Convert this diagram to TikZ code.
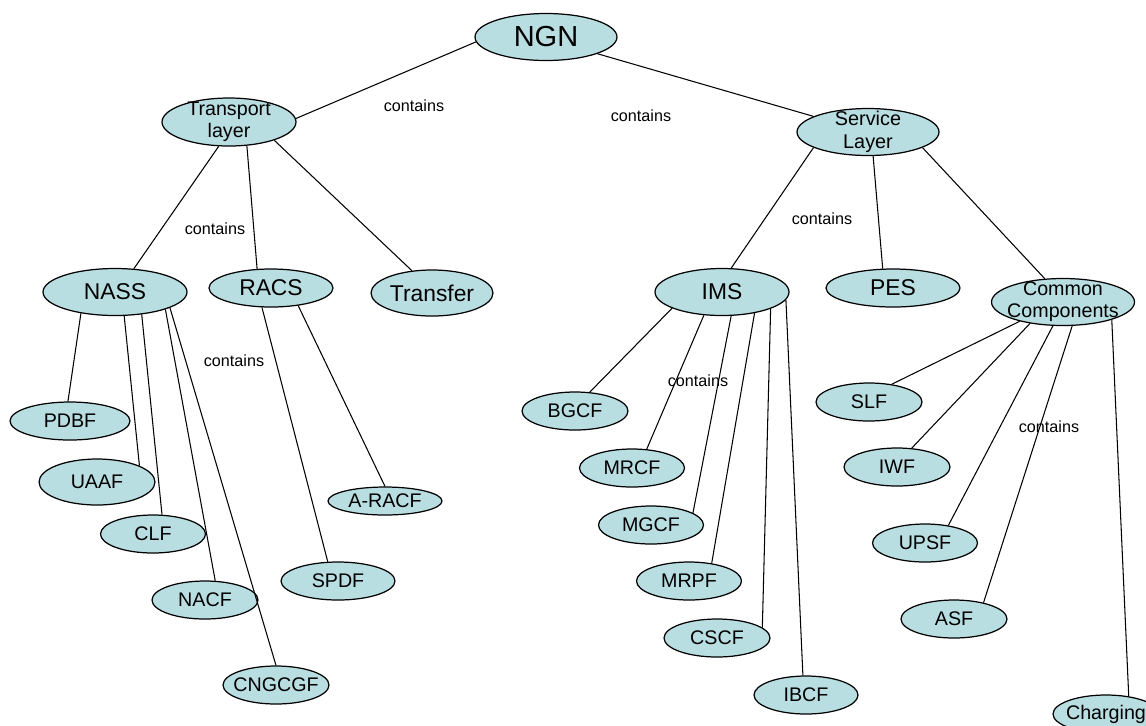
\documentclass[tikz,border=0pt]{standalone}
\usepackage{fontspec}
\setmainfont{Liberation Sans}
\usetikzlibrary{shapes.geometric}
\definecolor{blasstuerkis}{RGB}{185,222,226}

\begin{document}
\begin{tikzpicture}[x=0.02cm,y=-0.02cm,
		knoten/.style={ellipse,draw,line width=0.7pt,fill=blasstuerkis,inner sep=-20pt,align=center,
			minimum width=2.12cm,minimum height=0.76cm,font=\fontsize{11.2}{12.6}\selectfont},
		mitte/.style={knoten,font=\fontsize{13}{15}\selectfont},
		linie/.style={line width=0.6pt},
		enthaelt/.style={inner sep=0pt,font=\fontsize{9.2}{11}\selectfont}]
		\clip (0,0) rectangle (1146,725);
		% Wurzel
		\node[knoten,minimum width=2.84cm,minimum height=0.94cm,font=\fontsize{16.5}{18}\selectfont] (ngn) at (546,37) {NGN};
		% Schichten
		\node[knoten,minimum width=2.68cm,minimum height=0.96cm,font=\fontsize{11.2}{12.4}\selectfont] (transport) at (229,122) {Transport\\layer};
		\node[knoten,minimum width=2.84cm,minimum height=0.94cm,font=\fontsize{11.3}{13}\selectfont] (service) at (868,132) {Service\\Layer};
		% Teilsysteme
		\foreach \n/\x/\y/\w/\h/\l in {nass/115/292/2.88/0.94/NASS,racs/271/288/2.48/0.76/RACS,transfer/432/293/2.44/0.92/Transfer,
			ims/722/292/2.68/0.94/IMS,pes/893/288/2.68/0.76/PES}
		\node[mitte,minimum width=\w cm,minimum height=\h cm] (\n) at (\x,\y) {\l};
		\node[knoten,minimum width=2.86cm,minimum height=0.94cm] (common) at (1063,302) {Common\\Components};
		% Funktionen
		\foreach \n/\x/\y/\w/\h/\l in {pdbf/70/421/2.40/0.76/PDBF,uaaf/97/482/2.32/0.92/UAAF,clf/153/534/2.10/0.76/CLF,
			nacf/205/600/2.12/0.76/NACF,cngcgf/276/685/2.12/0.76/CNGCGF,aracf/385/501/2.28/0.56/A-RACF,
			spdf/338/581/2.28/0.76/SPDF,bgcf/575/411/2.12/0.76/BGCF,mrcf/632/468/2.10/0.76/MRCF,
			mgcf/651/525/2.10/0.76/MGCF,mrpf/689/581/2.10/0.76/MRPF,cscf/717/638/2.12/0.76/CSCF,
			ibcf/806/695/2.08/0.76/IBCF,slf/869/402/2.12/0.76/SLF,iwf/897/467/2.12/0.76/IWF,
			upsf/925/543/2.10/0.76/UPSF,asf/954/619/2.12/0.76/ASF,charging/1106/714/2.12/0.76/Charging}
		\node[knoten,minimum width=\w cm,minimum height=\h cm] (\n) at (\x,\y) {\l};
		% Verbindungen
		\foreach \a/\e in {ngn.184/transport.3,ngn.342/service.164,
			transport.247/nass.51,transport.307/racs.126,transport.338/transfer.132,
			service.196/ims.69,service.282/pes.118,service.344/common.128,
			nass.212/pdbf.96,nass.291/uaaf.21,nass.320/clf.65,nass.341/nacf.62,nass.344/cngcgf.90,
			racs.245/spdf.118,racs.327/aracf.90,
			ims.198/bgcf.52,ims.232/mrcf.52,ims.291/mgcf.16,ims.327/mrpf.38,ims.341/cscf.13,ims.353/ibcf.99,
			common.204/slf.38,common.213/iwf.52,common.247/upsf.37,common.291/asf.29,common.340/charging.38}
		\draw[linie] (\a) -- (\e);
		% Beschriftungen
		\foreach \x/\y [count=\i] in {414/106,641/116,215/229,822/219,234/361,698/381,1049/427}
		\node[enthaelt] (contains\i) at (\x,\y) {contains};
\end{tikzpicture}
\end{document}
